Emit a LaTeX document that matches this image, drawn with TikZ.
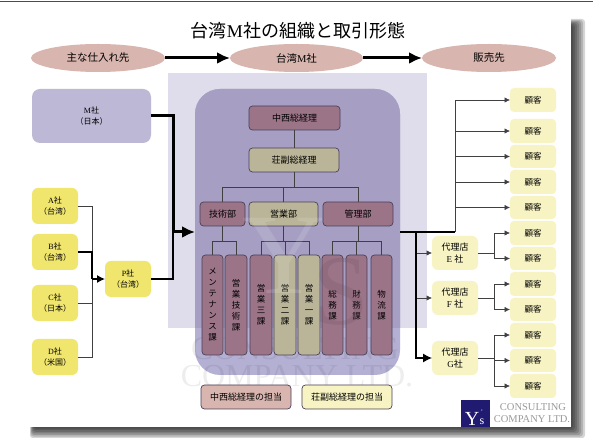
\documentclass[tikz,border=0pt]{standalone}
\usepackage{fontspec}
\setmainfont{Noto Sans CJK JP}
\newfontfamily\latf{Liberation Serif}
\usetikzlibrary{arrows.meta,shapes.geometric}
\newcommand\lat[1]{{\latf #1}}
\definecolor{ell}{HTML}{D8B5AE}
\definecolor{lav}{HTML}{DFDDEB}
\definecolor{pur}{HTML}{A69FC3}
\definecolor{purl}{HTML}{B4B0D4}
\definecolor{mauve}{HTML}{9C7488}
\definecolor{khaki}{HTML}{BAB498}
\definecolor{yel}{HTML}{F0E66E}
\definecolor{crm}{HTML}{F7F3C2}
\definecolor{mbox}{HTML}{BDB8D6}
\definecolor{navy}{HTML}{201A70}
\definecolor{edge}{HTML}{4A4058}
\tikzset{
  x=1pt,y=-1pt,
  base/.style={inner sep=0pt,outer sep=0pt,align=center,anchor=center,text=black},
  head/.style={base,ellipse,fill=ell,font=\fontsize{10.5}{12}\selectfont},
  staff/.style={base,rounded corners=3.5pt,draw=edge,line width=.7pt,font=\fontsize{9}{11}\selectfont},
  red/.style={staff,fill=mauve},
  kha/.style={staff,fill=khaki},
  redcol/.style={red,font=\fontsize{8.5}{11}\selectfont},
  khacol/.style={kha,font=\fontsize{8.5}{11}\selectfont},
  legl/.style={staff,fill=ell},
  legr/.style={staff,fill=crm},
  sup/.style={base,rounded corners=6pt,fill=yel,font=\fontsize{8}{11}\selectfont},
  cust/.style={base,rounded corners=4pt,fill=crm,font=\fontsize{8.5}{10}\selectfont},
  deal/.style={base,rounded corners=6pt,fill=crm,font=\fontsize{9}{11.5}\selectfont},
  thin/.style={line width=.7pt,draw=black!75},
  tip/.style={-{Latex[length=5.5pt,width=5.5pt]}},
  bold/.style={line width=3pt,-{Latex[length=13pt,width=12pt]}},
  wm/.style={inner sep=0pt,text opacity=.07,text=black},
}
\newcommand\bx[7]{\node[#1,minimum width=#5pt,minimum height=#6pt] (#2) at ({#3+#5/2},{#4+#6/2}) {#7};}
\begin{document}
\begin{tikzpicture}
\useasboundingbox (0,0) rectangle (595,438);
% page frame and shadow
\fill[black!70] (0,1) rectangle (593,2.5);
\foreach \k in {14,12,10,8,6,4,2}{
  \fill[black,opacity=.16,rounded corners=3pt] ({30+(14-\k)*.3},{26-\k*.5}) rectangle (571+\k,427+\k*.8);
}
\fill[white] (23,16) rectangle (571,427);
% title
\node[inner sep=0pt,font=\fontsize{18}{20}\selectfont] (title) at (298,31) {台湾\lat{M}社の組織と取引形態};
% header ellipses
\bx{head}{h1}{31}{44}{134}{28}{主な仕入れ先}
\bx{head}{h2}{230}{44}{133}{28}{台湾\lat{M}社}
\bx{head}{h3}{422}{44}{134}{28}{販売先}
\draw[bold] (h1.east) -- (h2.west);
\draw[bold] (h2.east) -- (h3.west);
% backgrounds
\fill[lav] (168,73) rectangle (427,328);
\bx{base,fill=purl,rounded corners=25pt}{org}{195}{89}{205}{286}{}
\begin{scope}
  \clip (168,73) rectangle (427,328);
  \fill[pur,rounded corners=25pt] (195,89) rectangle (400,375);
\end{scope}
% watermark
\node[wm,font=\latf\fontsize{33}{33}\selectfont] (wm1) at (295,349) {CONSULTING};
\node[wm,font=\latf\fontsize{32}{32}\selectfont] (wm2) at (297,376) {COMPANY LTD.};
% suppliers
\bx{base,rounded corners=8pt,fill=mbox,font=\fontsize{8}{11}\selectfont}{m}{32}{89}{119}{54}{\lat{M}社\\（日本）}
\bx{sup}{a}{32}{188}{46}{36}{\lat{A}社\\（台湾）}
\bx{sup}{b}{32}{234}{46}{36}{\lat{B}社\\（台湾）}
\bx{sup}{c}{32}{285}{46}{36}{\lat{C}社\\（日本）}
\bx{sup}{d}{32}{339}{46}{36}{\lat{D}社\\（米国）}
\bx{sup}{p}{105}{261}{46}{36}{\lat{P}社\\（台湾）}
\coordinate (jn) at (92,279);
\coordinate (in) at (173,232);
\draw[thin] (a.east) -| (jn);
\draw[thin] (d.east) -| (jn);
\draw[thin] (c.east) -| (jn);
\draw[line width=1.1pt] (b.east) -| (jn);
\draw[line width=1.3pt,-{Latex[length=8pt,width=8pt]}] (jn) -- (p.west);
\draw[line width=3pt,line join=miter] (m.east) -| (in);
\draw[line width=1.8pt] (p.east) -| (in);
\draw[bold] (in) -- (org.west);
% organisation
\bx{red}{gm}{249}{106}{91}{24}{中西総経理}
\bx{kha}{vm}{249}{148}{90}{24}{荘副総経理}
\bx{red}{d1}{200}{202}{45}{24}{技術部}
\bx{kha}{d2}{249}{202}{69}{24}{営業部}
\bx{red}{d3}{323}{202}{70}{24}{管理部}
\bx{redcol}{c1}{202}{255}{21}{100}{メ\\ン\\テ\\ナ\\ン\\ス\\課}
\bx{redcol}{c2}{225}{255}{22}{100}{営\\業\\技\\術\\課}
\bx{redcol}{c3}{250}{255}{22}{100}{営\\業\\三\\課}
\bx{khacol}{c4}{274}{255}{22}{100}{営\\業\\二\\課}
\bx{khacol}{c5}{298}{255}{22}{100}{営\\業\\一\\課}
\bx{redcol}{c6}{322}{255}{21}{100}{総\\務\\課}
\bx{redcol}{c7}{346}{255}{21}{100}{財\\務\\課}
\bx{redcol}{c8}{371}{255}{21}{100}{物\\流\\課}
\bx{legl}{l1}{201}{385}{90}{24}{中西総経理の担当}
\bx{legr}{l2}{302}{385}{90}{24}{荘副総経理の担当}
\draw[thin] (gm.south) -- (gm.south|-vm.north);
\foreach \t in {d1,d2,d3}{\draw[thin] (vm.south) -- ++(0,15) -| (\t.north);}
\foreach \t in {c1,c2}{\draw[thin] (d1.south) -- ++(0,15) -| (\t.north);}
\foreach \t in {c3,c4,c5}{\draw[thin] (d2.south) -- ++(0,15) -| (\t.north);}
\foreach \t in {c6,c7,c8}{\draw[thin] (d3.south) -- ++(0,15) -| (\t.north);}
% watermark logo, over the boxes
\node[inner sep=0pt,text=white,text opacity=.13,font=\latf\fontsize{115}{115}\selectfont] (wmy) at (284,256) {Y};
\node[inner sep=0pt,text=mauve!70!black,text opacity=.22,font=\latf\fontsize{100}{100}\selectfont] (wms) at (341,292) {S};
% customers
\bx{cust}{k1}{510}{88}{46}{24}{顧客}
\bx{cust}{k2}{510}{119}{46}{24}{顧客}
\bx{cust}{k3}{510}{145}{46}{23}{顧客}
\bx{cust}{k4}{510}{170}{46}{24}{顧客}
\bx{cust}{k5}{510}{196}{46}{23}{顧客}
\bx{cust}{k6}{510}{221}{46}{24}{顧客}
\bx{cust}{k7}{510}{247}{46}{23}{顧客}
\bx{cust}{k8}{510}{272}{46}{24}{顧客}
\bx{cust}{k9}{510}{298}{46}{23}{顧客}
\bx{cust}{k10}{510}{323}{46}{24}{顧客}
\bx{cust}{k11}{510}{349}{46}{23}{顧客}
\bx{cust}{k12}{510}{374}{46}{24}{顧客}
\bx{deal}{e}{432}{236}{46}{34}{代理店\\\lat{E} 社}
\bx{deal}{f}{432}{281}{46}{34}{代理店\\\lat{F} 社}
\bx{deal}{g}{432}{341}{46}{34}{代理店\\\lat{G}社}
\coordinate (ro) at (455,232);
\coordinate (dl) at (416,232);
\draw[line width=1.1pt] (org.east) -- (ro);
\foreach \t in {k1,k2,k3,k4,k5}{\draw[thin,tip] (ro) |- (\t.west);}
\draw[thin,tip] (dl) |- (e.west);
\draw[thin,tip] (dl) |- (f.west);
\draw[line width=1.1pt,-{Latex[length=9pt,width=9pt]}] (dl) |- (g.west);
\foreach \t in {k6,k7}{\draw[thin,tip] (e.east) -- ++(16,0) |- (\t.west);}
\foreach \t in {k8,k9}{\draw[thin,tip] (f.east) -- ++(16,0) |- (\t.west);}
\foreach \t in {k10,k11,k12}{\draw[thin,tip] (g.east) -- ++(16,0) |- (\t.west);}
% logo
\fill[navy] (461,400) rectangle (490,427);
\begin{scope}
\clip (461,400) rectangle (490,427);
\node[inner sep=0pt,text=white,font=\latf\fontsize{20}{20}\selectfont] (ly) at (472,419) {Y};
\node[inner sep=0pt,text=white,font=\latf\fontsize{12}{12}\selectfont] (ls) at (482,422) {s};
\node[inner sep=0pt,text=white,font=\latf\fontsize{7}{7}\selectfont] (la) at (482,412) {'};
\end{scope}
\node[inner sep=0pt,text=black!40,font=\latf\fontsize{10.5}{10.5}\selectfont] (lg1) at (533,407) {CONSULTING};
\node[inner sep=0pt,text=black!40,font=\latf\fontsize{10.5}{10.5}\selectfont] (lg2) at (532,419) {COMPANY LTD.};
\end{tikzpicture}
\end{document}
